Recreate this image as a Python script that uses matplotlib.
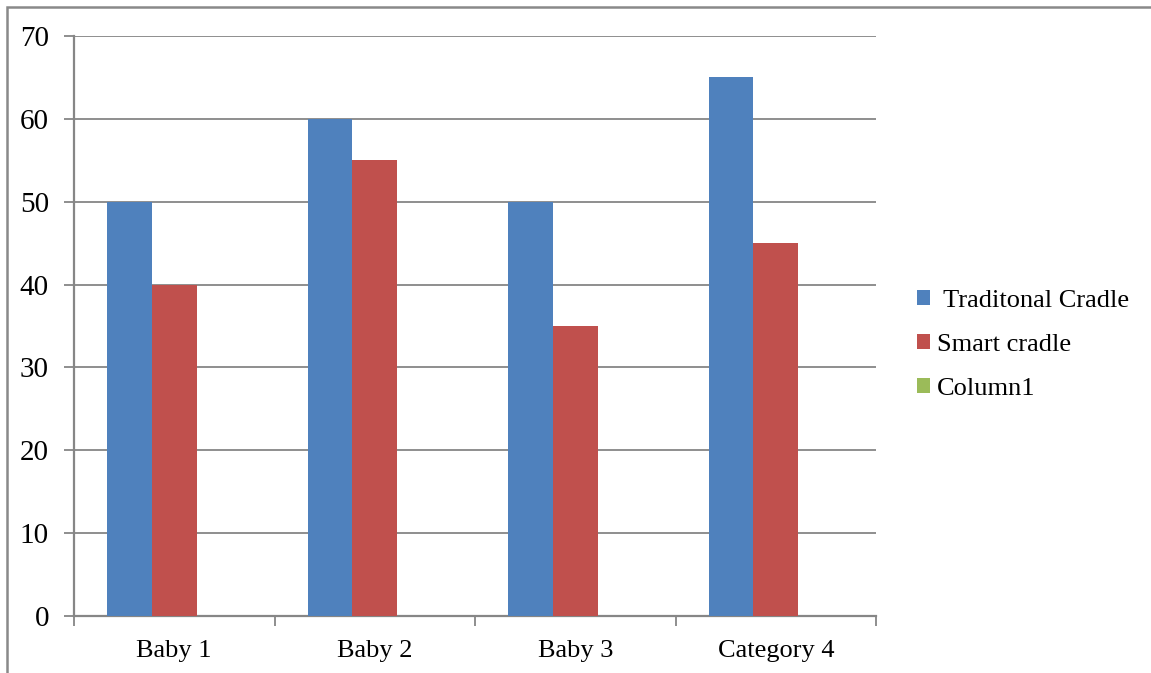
import matplotlib.pyplot as plt
import numpy as np
from matplotlib.patches import Rectangle

categories = ['Baby 1', 'Baby 2', 'Baby 3', 'Category 4']
traditional = [50, 60, 50, 65]
smart = [40, 55, 35, 45]
column1 = [np.nan, np.nan, np.nan, np.nan]

series = [(' Traditonal Cradle', traditional, '#4F81BD'),
          ('Smart cradle', smart, '#C0504D'),
          ('Column1', column1, '#9BBB59')]

plt.rcParams['font.family'] = ['Liberation Serif', 'DejaVu Serif']
grey = '#868686'

fig = plt.figure(figsize=(11.51, 6.73), dpi=100)
ax = fig.add_axes([74/1151, 1-616/673, 802/1151, 580/673])

x = np.arange(len(categories))
w = 1/4.5
for i, (name, vals, col) in enumerate(series):
    ax.bar(x + (i-1)*w, vals, width=w, color=col, label=name, zorder=3)

ax.set_xlim(-0.5, len(categories)-0.5)
ax.set_ylim(0, 70)
ax.set_yticks(range(0, 71, 10))
ax.set_xticks(x)
ax.set_xticklabels(categories)
ax.set_xticks(np.arange(-0.5, len(categories), 1), minor=True)

ax.grid(axis='y', color=grey, linewidth=1.3, zorder=0)
for s in ['top', 'right']:
    ax.spines[s].set_visible(False)
for s in ['left', 'bottom']:
    ax.spines[s].set_color(grey)
    ax.spines[s].set_linewidth(1.6)

ax.tick_params(axis='y', length=7, width=1.3, color=grey, pad=11, labelsize=21)
ax.tick_params(axis='x', which='major', length=0, pad=17, labelsize=19)
ax.tick_params(axis='x', which='minor', length=7, width=1.3, color=grey)

handles, labels = ax.get_legend_handles_labels()
fig.legend(handles, labels, loc='center left', bbox_to_anchor=(917/1151, 1-345/673),
           frameon=False, fontsize=19, handlelength=0.5, handleheight=0.5,
           handletextpad=0.25, labelspacing=0.83, borderpad=0, borderaxespad=0)

# outer frame around the chart
fig.add_artist(Rectangle((7/1151, -0.5), 2, 0.5 + 1 - 7/673, transform=fig.transFigure,
                         fill=False, edgecolor='#898989', linewidth=1.8))

fig.savefig('out.png', dpi=100)
